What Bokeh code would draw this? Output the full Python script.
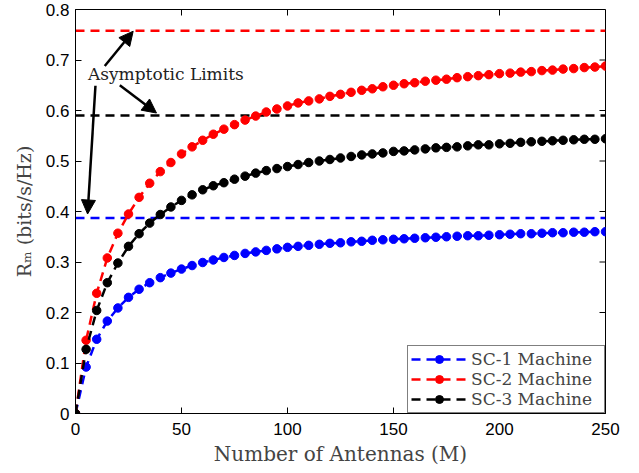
from bokeh.plotting import figure
from bokeh.models import (Range1d, FixedTicker, CustomJSTickFormatter,
                          Legend, LegendItem, Arrow, NormalHead, Label, ColumnDataSource)
from bokeh.embed import file_html
from bokeh.resources import INLINE

# ---------------- data ----------------
antennas = [0, 5, 10, 15, 20, 25, 30, 35, 40, 45, 50, 55, 60, 65, 70, 75, 80, 85, 90, 95,
            100, 105, 110, 115, 120, 125, 130, 135, 140, 145, 150, 155, 160, 165, 170, 175,
            180, 185, 190, 195, 200, 205, 210, 215, 220, 225, 230, 235, 240, 245, 250]

sc1_rate = [0, 0.092, 0.147, 0.183, 0.209, 0.230, 0.246, 0.259, 0.269, 0.278,
            0.286, 0.293, 0.299, 0.304, 0.309, 0.313, 0.317, 0.320, 0.323, 0.326,
            0.329, 0.331, 0.333, 0.335, 0.337, 0.338, 0.340, 0.341, 0.343, 0.344,
            0.345, 0.346, 0.347, 0.348, 0.349, 0.350, 0.351, 0.352, 0.352, 0.353,
            0.354, 0.355, 0.356, 0.356, 0.357, 0.358, 0.358, 0.359, 0.359, 0.360, 0.360]

sc2_rate = [0, 0.145, 0.238, 0.308, 0.357, 0.395, 0.428, 0.456, 0.479, 0.497,
            0.514, 0.528, 0.541, 0.553, 0.563, 0.572, 0.581, 0.589, 0.597, 0.603,
            0.609, 0.615, 0.619, 0.623, 0.628, 0.632, 0.636, 0.640, 0.643, 0.647,
            0.650, 0.653, 0.655, 0.658, 0.660, 0.662, 0.665, 0.667, 0.669, 0.671,
            0.673, 0.674, 0.676, 0.677, 0.679, 0.680, 0.682, 0.683, 0.685, 0.686, 0.688]

sc3_rate = [0, 0.127, 0.204, 0.259, 0.298, 0.331, 0.356, 0.377, 0.394, 0.409,
            0.422, 0.433, 0.443, 0.451, 0.457, 0.464, 0.470, 0.476, 0.481, 0.485,
            0.489, 0.493, 0.497, 0.500, 0.503, 0.506, 0.509, 0.512, 0.514, 0.516,
            0.519, 0.520, 0.522, 0.524, 0.526, 0.527, 0.528, 0.530, 0.532, 0.532,
            0.534, 0.535, 0.537, 0.538, 0.539, 0.540, 0.541, 0.542, 0.543, 0.543, 0.544]

series_names = ["SC-1 Machine", "SC-2 Machine", "SC-3 Machine"]
series_colors = ["#0000ff", "#ff0000", "#000000"]
asymptotic_limits = [0.387, 0.758, 0.590]

x_ticks = [0, 50, 100, 150, 200, 250]
y_ticks = [0, 0.1, 0.2, 0.3, 0.4, 0.5, 0.6, 0.7, 0.8]

annotation_text = "Asymptotic Limits"

# ---------------- figure ----------------
SERIF = "DejaVu Serif"
SANS = "Liberation Sans"
X_MIN, X_MAX, Y_MIN, Y_MAX = 0, 250, 0, 0.8

p = figure(width=639, height=473, output_backend="svg", toolbar_location=None,
           x_range=Range1d(X_MIN, X_MAX), y_range=Range1d(Y_MIN, Y_MAX),
           min_border_left=75, min_border_right=34, min_border_top=9, min_border_bottom=60)
p.background_fill_color = "white"
p.border_fill_color = "white"
p.outline_line_color = "black"
p.outline_line_width = 1
p.xgrid.visible = False
p.ygrid.visible = False

def style_axis(ax, ticks, code):
    ax.ticker = FixedTicker(ticks=ticks)
    ax.formatter = CustomJSTickFormatter(code=code)
    ax.major_tick_in = 6
    ax.major_tick_out = 0
    ax.minor_tick_line_color = None
    ax.axis_line_color = "black"
    ax.axis_line_width = 1
    ax.major_tick_line_color = "black"
    ax.major_tick_line_width = 1
    ax.major_label_text_font = SANS
    ax.major_label_text_font_size = "17px"
    ax.major_label_text_color = "black"

style_axis(p.xaxis[0], x_ticks, "return tick.toFixed(0);")
style_axis(p.yaxis[0], y_ticks, "return tick == 0 ? '0' : tick.toFixed(1);")
p.xaxis[0].major_label_standoff = 9
p.yaxis[0].major_label_standoff = 6

p.xaxis[0].axis_label = "Number of Antennas (M)"
p.xaxis[0].axis_label_text_font = SERIF
p.xaxis[0].axis_label_text_font_style = "normal"
p.xaxis[0].axis_label_text_font_size = "20px"
p.xaxis[0].axis_label_standoff = 4

p.yaxis[0].axis_label = "R\u2098 (bits/s/Hz)"
p.yaxis[0].axis_label_text_font = SERIF
p.yaxis[0].axis_label_text_font_style = "normal"
p.yaxis[0].axis_label_text_font_size = "19px"
p.yaxis[0].axis_label_standoff = 8

# mirrored inward ticks on the top and right edges of the box
tick_len_y = 6 * (Y_MAX - Y_MIN) / 404.0
tick_len_x = 6 * (X_MAX - X_MIN) / 530.0
p.segment(x0=x_ticks, y0=[Y_MAX] * len(x_ticks), x1=x_ticks,
          y1=[Y_MAX - tick_len_y] * len(x_ticks), line_color="black", line_width=1)
p.segment(x0=[X_MAX] * len(y_ticks), y0=y_ticks, x1=[X_MAX - tick_len_x] * len(y_ticks),
          y1=y_ticks, line_color="black", line_width=1)

# asymptotic limit lines
for lim, col in zip(asymptotic_limits, series_colors):
    p.line([X_MIN, X_MAX], [lim, lim], line_color=col, line_width=2.5, line_dash="9 6")

# series
items = []
for name, col, ys in zip(series_names, series_colors, [sc1_rate, sc2_rate, sc3_rate]):
    src = ColumnDataSource(data=dict(x=antennas, y=ys))
    ln = p.line("x", "y", source=src, line_color=col, line_width=2.5, line_dash="9 6")
    sc = p.scatter("x", "y", source=src, size=8.5, marker="circle",
                   fill_color=col, line_color=col)
    items.append(LegendItem(label=name, renderers=[ln, sc]))

legend = Legend(items=items, location="bottom_right", margin=0, padding=3,
                spacing=0, glyph_width=56, glyph_height=20, label_height=20,
                label_width=130, label_standoff=4,
                label_text_font=SERIF, label_text_font_size="17px",
                border_line_color="black", border_line_width=1,
                background_fill_color="white", background_fill_alpha=1)
p.add_layout(legend, "center")

# annotations
p.add_layout(Label(x=5.9, y=0.6725, text=annotation_text, text_align="left",
                   text_baseline="middle", text_font=SERIF, text_font_size="17px",
                   text_color="#222222"))

arrows = [
    (13.8, 0.688, 27.2, 0.757),
    (20.9, 0.650, 38.2, 0.595),
    (9.4, 0.649, 5.7, 0.395),
]
for xs, ys, xe, ye in arrows:
    p.add_layout(Arrow(end=NormalHead(size=14, fill_color="black", line_color="black"),
                       x_start=xs, y_start=ys, x_end=xe, y_end=ye,
                       line_color="black", line_width=2.5))

open("out.html", "w").write(file_html(p, INLINE))
